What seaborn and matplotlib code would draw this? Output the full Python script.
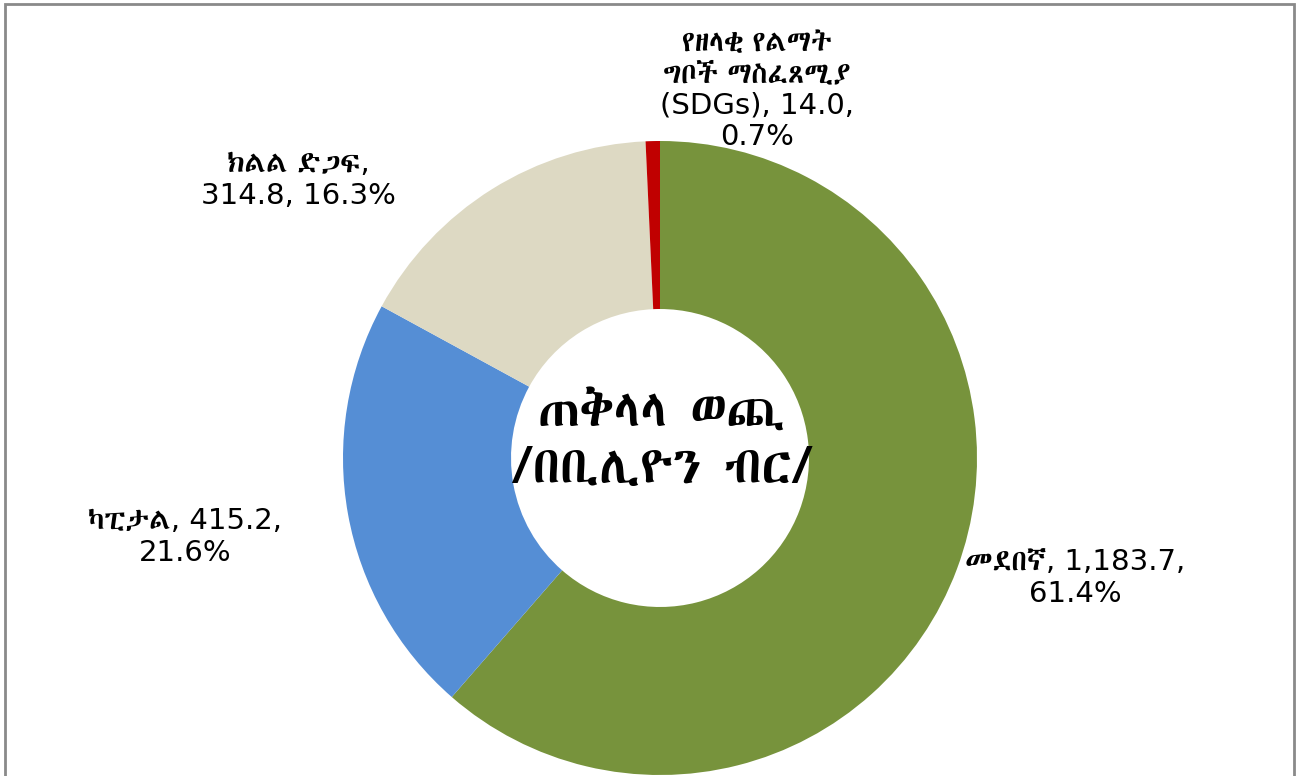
import matplotlib
matplotlib.use("Agg")
import matplotlib.pyplot as plt
from matplotlib import font_manager
import matplotlib.patches as mpatches
import seaborn as sns

# ---------------- data ----------------
categories = ["መደበኛ", "ካፒታል", "ክልል ድጋፍ", "የዘላቂ የልማት ግቦች ማስፈጸሚያ (SDGs)"]
values = [1183.7, 415.2, 314.8, 14.0]
percents = [61.4, 21.6, 16.3, 0.7]
center_title = ["ጠቅላላ ወጪ", "/በቢሊዮን ብር/"]
colors = ["#77933C", "#558ED5", "#DDD9C3", "#C00000"]

# ---------------- fonts ----------------
sns.set_theme(style="white")

def find_ethiopic_families():
    fams = []
    try:
        from fontTools.ttLib import TTFont
    except Exception:
        return fams
    for f in font_manager.fontManager.ttflist:
        try:
            tt = TTFont(f.fname, fontNumber=0, lazy=True)
            cmap = tt.getBestCmap()
            if cmap and 0x1320 in cmap and 0x1275 in cmap:
                if f.name not in fams:
                    fams.append(f.name)
        except Exception:
            pass
    fams.sort(key=lambda n: ("Mono" in n, "DejaVu" in n, n))
    return fams

eth = find_ethiopic_families()
family = eth + ["DejaVu Sans"] if eth else ["DejaVu Sans"]
num_family = ["DejaVu Sans"] + [f for f in eth if f != "DejaVu Sans"]
plt.rcParams["font.family"] = family

# ---------------- layout ----------------
W, H, DPI = 1301, 776, 100
cx_px, cy_px, r_px = 660, 458, 317
fig = plt.figure(figsize=(W / DPI, H / DPI), dpi=DPI)
ax = fig.add_axes([0, 0, 1, 1])

def px(x, y):
    return (x - cx_px) / r_px, (cy_px - y) / r_px

wedges, _ = ax.pie(values, colors=colors, startangle=90, counterclock=False,
                   radius=1.0, wedgeprops=dict(width=0.53, linewidth=0),
                   center=(0, 0), frame=False)
ax.set_xlim(-cx_px / r_px, (W - cx_px) / r_px)
ax.set_ylim(-(H - cy_px) / r_px, cy_px / r_px)
ax.set_aspect("auto")
ax.axis("off")

def fmt_val(v):
    return f"{v:,.1f}"

label_texts = [
    f"{categories[0]}, {fmt_val(values[0])},\n{percents[0]}%",
    f"{categories[1]}, {fmt_val(values[1])},\n{percents[1]}%",
    f"{categories[2]},\n{fmt_val(values[2])}, {percents[2]}%",
    "የዘላቂ የልማት\nግቦች ማስፈጸሚያ\n" + f"(SDGs), {fmt_val(values[3])},\n{percents[3]}%",
]
label_pos_px = [(1075, 578), (185, 537), (298, 180), (757, 90)]
for t, (lx, ly) in zip(label_texts, label_pos_px):
    x, y = px(lx, ly)
    ax.text(x, y, t, ha="center", va="center", fontsize=21, color="black",
            family=num_family, linespacing=1.15)

# centre title
x, y = px(662, 440)
ax.text(x, y, "\n".join(center_title), ha="center", va="center",
        fontsize=37, fontweight="bold", color="black", family=family,
        linespacing=1.18)

# outer border
fig.patches.append(mpatches.Rectangle((5 / W, -0.05), (1294 - 5) / W, (H - 4) / H + 0.05,
                                      transform=fig.transFigure, fill=False,
                                      edgecolor="#8a8a8a", linewidth=2.0))

fig.savefig("out.png", dpi=DPI)
